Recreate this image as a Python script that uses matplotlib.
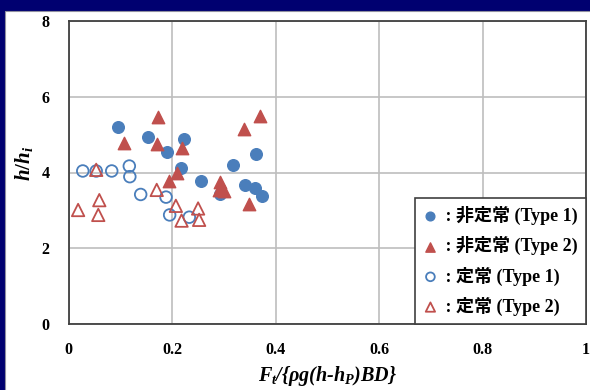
import matplotlib.pyplot as plt
from matplotlib.patches import Rectangle

plt.rcParams['mathtext.fontset'] = 'custom'
plt.rcParams['mathtext.it'] = 'Liberation Serif:italic:bold'
plt.rcParams['mathtext.rm'] = 'Liberation Serif:bold'
plt.rcParams['mathtext.bf'] = 'Liberation Serif:bold'

# 非定常 (Type 1)
x_u1 = [0.096, 0.154, 0.190, 0.223, 0.217, 0.255, 0.318, 0.361, 0.292, 0.341, 0.360, 0.374]
y_u1 = [5.21, 4.95, 4.55, 4.88, 4.11, 3.78, 4.20, 4.48, 3.42, 3.67, 3.58, 3.38]

# 非定常 (Type 2)
x_u2 = [0.173, 0.107, 0.170, 0.369, 0.338, 0.219, 0.210, 0.194, 0.293, 0.290, 0.300, 0.348]
y_u2 = [5.47, 4.79, 4.74, 5.49, 5.14, 4.66, 3.99, 3.78, 3.74, 3.54, 3.50, 3.16]

# 定常 (Type 1)
x_s1 = [0.027, 0.053, 0.083, 0.117, 0.118, 0.139, 0.188, 0.195, 0.233]
y_s1 = [4.04, 4.04, 4.04, 4.17, 3.89, 3.42, 3.35, 2.88, 2.82]

# 定常 (Type 2)
x_s2 = [0.018, 0.053, 0.059, 0.057, 0.170, 0.207, 0.250, 0.252, 0.218]
y_s2 = [3.01, 4.07, 3.27, 2.88, 3.54, 3.12, 3.05, 2.75, 2.73]

labels = [' : 非定常 (Type 1)', ' : 非定常 (Type 2)', ' : 定常 (Type 1)', ' : 定常 (Type 2)']

blue = '#4A7EBB'
red = '#C0504D'
navy = '#000070'

fig = plt.figure(figsize=(5.9, 3.9), dpi=100, facecolor=navy)
# white slide panel behind the chart
fig.patches.append(Rectangle((5 / 590, -0.01), 1, 379 / 390 + 0.01, transform=fig.transFigure,
                             facecolor='white', edgecolor='#9090A0', linewidth=0.8, zorder=-10))

ax = fig.add_axes([68.8 / 590, 66 / 390, 517.2 / 590, 303 / 390])

ax.scatter(x_u1, y_u1, s=70, marker='o', color=blue, label=labels[0], zorder=3)
ax.scatter(x_u2, y_u2, s=80, marker='^', color=red, label=labels[1], zorder=3)
ax.scatter(x_s1, y_s1, s=70, marker='o', facecolors='none', edgecolors=blue,
           linewidths=1.3, label=labels[2], zorder=3)
ax.scatter(x_s2, y_s2, s=80, marker='^', facecolors='none', edgecolors=red,
           linewidths=1.3, label=labels[3], zorder=3)

ax.set_xlim(0, 1)
ax.set_ylim(0, 8)
ax.set_xticks([0, 0.2, 0.4, 0.6, 0.8, 1.0])
ax.set_xticklabels(['0', '0.2', '0.4', '0.6', '0.8', '1'])
ax.set_yticks([0, 2, 4, 6, 8])
ax.grid(True, color='#BEBEBE', linewidth=1.2)
ax.set_axisbelow(True)
for sp in ax.spines.values():
    sp.set_color('#404040')
    sp.set_linewidth(1.3)

ax.tick_params(length=0, labelsize=11.5)
ax.tick_params(axis='x', pad=13)
ax.tick_params(axis='y', pad=14)
for t in ax.get_xticklabels() + ax.get_yticklabels():
    t.set_family('Liberation Serif')
    t.set_weight('bold')

ax.set_ylabel(r'$h/h_i$', fontsize=15)
ax.yaxis.set_label_coords(-0.066, 0.53)
ax.set_xlabel(r'$F_t$/{ρg(h-$h_P$)BD}', fontsize=14.5, family='Liberation Serif',
              style='italic', weight='bold')
ax.xaxis.set_label_coords(0.5, -0.132)

leg = ax.legend(loc='lower right', bbox_to_anchor=(1, 0), borderaxespad=0,
                fancybox=False, framealpha=1, edgecolor='#404040',
                handlelength=0.8, handletextpad=0.2, labelspacing=0.62,
                borderpad=0.45, markerscale=0.75,
                prop={'family': ['Liberation Serif', 'Noto Sans CJK JP'],
                      'weight': 'bold', 'size': 13})
leg.get_frame().set_linewidth(1.2)

fig.savefig('out.png', dpi=100, facecolor=navy)
